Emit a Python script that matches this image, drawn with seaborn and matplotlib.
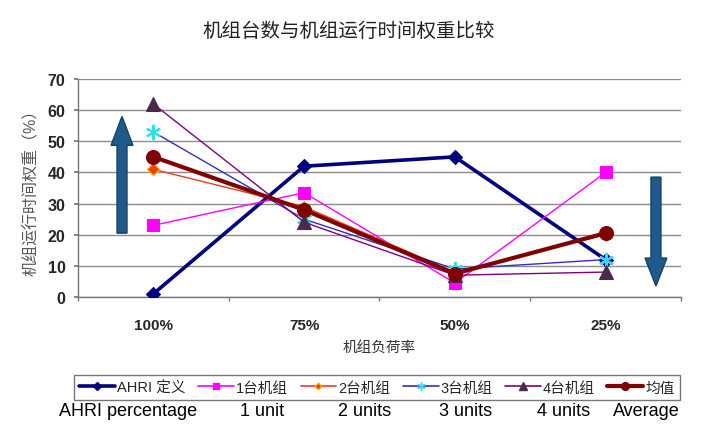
import numpy as np
import pandas as pd
import matplotlib
matplotlib.use("Agg")
import matplotlib.pyplot as plt
from matplotlib.lines import Line2D
import seaborn as sns

# ---- data ----
categories = ["100%", "75%", "50%", "25%"]
ahri = [1, 42, 45, 12]
unit1 = [23, 33.5, 4.5, 40]
unit2 = [41, 29, 8, 20]
unit3 = [53, 25, 9, 12]
unit4 = [62, 24, 7, 8]
average = [45, 28, 7.5, 20.5]
series_names = ["AHRI 定义", "1台机组", "2台机组", "3台机组", "4台机组", "均值"]
english_labels = ["AHRI percentage", "1 unit", "2 units", "3 units", "4 units", "Average"]
title = "机组台数与机组运行时间权重比较"
xlabel = "机组负荷率"
ylabel = "机组运行时间权重（%）"

sns.set_theme(style="white")
plt.rcParams['font.family'] = ['Liberation Sans', 'Noto Sans CJK SC', 'DejaVu Sans']

fig = plt.figure(figsize=(7.2, 4.35), dpi=100)
ax = fig.add_axes([0.1083, 0.315, 0.8375, 0.501])

x = np.arange(len(categories))
styles = [
    dict(data=ahri, color="#000080", lw=2.6, marker="D", ms=7, mfc="#000080", mec="#000080", z=3),
    dict(data=unit1, color="#FF00FF", lw=1.0, marker="s", ms=9, mfc="#FF00FF", mec="#FF00FF", z=4),
    dict(data=unit2, color="#E8401C", lw=1.0, marker="D", ms=6, mfc="#E8400C", mec="#FFA500", z=5),
    dict(data=unit3, color="#3030C0", lw=1.0, marker=(6, 2, 0), ms=11, mfc="#33DDEE", mec="#33DDEE", z=6),
    dict(data=unit4, color="#800080", lw=1.0, marker="^", ms=10, mfc="#4A2A4A", mec="#4A2A4A", z=7),
    dict(data=average, color="#800000", lw=3.0, marker="o", ms=10, mfc="#800000", mec="#800000", z=8),
]

handles = []
for name, st in zip(series_names, styles):
    df = pd.DataFrame({"x": x, "y": st["data"]})
    sns.lineplot(data=df, x="x", y="y", ax=ax, color=st["color"], linewidth=st["lw"],
                 marker=st["marker"], markersize=st["ms"], markerfacecolor=st["mfc"],
                 markeredgecolor=st["mec"], markeredgewidth=1.5 if st["marker"] == (6, 2, 0) else 0.8,
                 zorder=st["z"], legend=False)
    handles.append(Line2D([], [], color=st["color"], linewidth=max(st["lw"], 1.2),
                          marker=st["marker"], markersize=st["ms"] * 0.55,
                          markerfacecolor=st["mfc"], markeredgecolor=st["mec"]))

# arrows
arrow_color = "#1E5A8C"
ax.arrow(-0.208, 20.5, 0, 37.5, width=0.066, head_width=0.145, head_length=9.3,
         length_includes_head=True, fc=arrow_color, ec="#16405F", lw=1, zorder=2)
ax.arrow(3.334, 38.5, 0, -35, width=0.066, head_width=0.145, head_length=9.0,
         length_includes_head=True, fc=arrow_color, ec="#16405F", lw=1, zorder=2)

ax.set_xlim(-0.5, 3.5)
ax.set_ylim(0, 70)
ax.set_yticks(range(0, 71, 10))
ax.yaxis.grid(True, color="#8c8c8c", linewidth=1.0)
ax.set_axisbelow(True)
ax.set_xticks(x)
ax.set_xticklabels(categories, fontsize=11, fontweight="bold")
ax.set_xticks([-0.5, 0.5, 1.5, 2.5, 3.5], minor=True)
ax.tick_params(axis="x", which="major", length=0, pad=15)
ax.tick_params(axis="x", which="minor", length=3, color="#777777", direction="out", bottom=True)
ax.tick_params(axis="y", length=3, color="#777777", direction="out", left=True, labelsize=11.5, pad=6)
for lab in ax.get_yticklabels():
    lab.set_fontweight("bold")
for s in ["top", "right"]:
    ax.spines[s].set_visible(False)
for s in ["left", "bottom"]:
    ax.spines[s].set_color("#777777")
    ax.spines[s].set_linewidth(1.0)

ax.set_xlabel(xlabel, fontsize=10.5, color="#333333", labelpad=6)
ax.set_ylabel(ylabel, fontsize=11.5, color="#555555", labelpad=6)

fig.text(0.485, 0.928, title, ha="center", va="center", fontsize=14, color="#222222")

leg = fig.legend(handles, series_names, loc="center", bbox_to_anchor=(377 / 720, 1 - 388.5 / 435),
                 ncol=6, fontsize=10.5, frameon=True, fancybox=False, handlelength=2.45,
                 handletextpad=0.15, columnspacing=0.85, borderpad=0.35, borderaxespad=0,
                 edgecolor="#555555")
leg.get_frame().set_linewidth(1.0)

eng_x = [128, 262, 365, 466, 564, 646]
for ex, t in zip(eng_x, english_labels):
    fig.text(ex / 720, 1 - 412 / 435, t, ha="center", va="center", fontsize=13, color="#000000")

fig.savefig("out.png", dpi=100)
